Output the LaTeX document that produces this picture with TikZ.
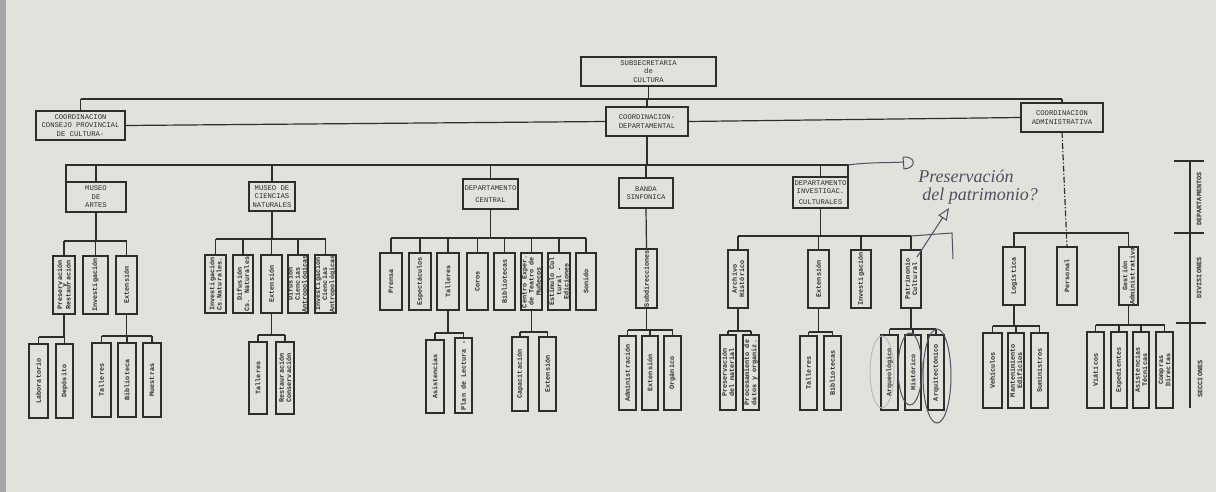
\documentclass[tikz,border=0pt]{standalone}
\usepackage{fontspec}
\newfontfamily\mono{Liberation Mono}
\newfontfamily\handf{Liberation Serif}
\usetikzlibrary{arrows.meta}
\definecolor{paper}{RGB}{226,226,221}
\definecolor{ink}{RGB}{45,45,45}
\definecolor{pencil}{RGB}{80,80,95}
\tikzset{
  bx/.style={draw=ink, line width=0.6pt, inner sep=0pt, outer sep=0pt},
  htxt/.style={font=\mono\fontsize{3.6}{4.2}\selectfont, text=ink, align=center, inner sep=0pt},
  vtxt/.style={font=\mono\bfseries\fontsize{3.4}{3.6}\selectfont, text=ink, align=center, inner sep=0pt, rotate=90},
  ln/.style={draw=ink, line width=0.6pt},
  hand/.style={draw=pencil, line width=0.5pt},
  handtxt/.style={font=\handf\itshape\fontsize{9}{10}\selectfont, text=pencil, inner sep=0pt},
}
\newcommand{\hb}[6]{%
  \node[bx, minimum width={(#3-#2)*0.5pt}, minimum height={(#5-#4)*0.5pt}] (#1) at ({(#2+#3)/2},{(#4+#5)/2}) {};
  \node[htxt] (#1t) at (#1.center) {#6};}
\newcommand{\vb}[6]{%
  \node[bx, minimum width={(#3-#2)*0.5pt}, minimum height={(#5-#4)*0.5pt}] (#1) at ({(#2+#3)/2},{(#4+#5)/2}) {};
  \node[vtxt] (#1t) at (#1.center) {#6};}
\newcommand{\grp}[5]{%
  \coordinate (barY) at (0,#2);
  \draw[ln] (#1.south) -- (#1.south |- barY);
  \draw[ln] (#3.north |- barY) -- (#4.north |- barY);
  \foreach \c in {#5}{\draw[ln] (\c.north) -- (\c.north |- barY);}}
\begin{document}
\begin{tikzpicture}[x=0.5pt,y=-0.5pt]
\useasboundingbox (0,0) rectangle (1216,492);
\fill[paper] (0,0) rectangle (1216,492);
\fill[black!35] (0,0) rectangle (6,492);

% top level
\hb{sub}{581}{716}{57}{86}{SUBSECRETARIA\\de\\CULTURA}
\hb{ccp}{36}{125}{111}{140}{COORDINACION\\CONSEJO PROVINCIAL\\DE CULTURA-}
\hb{cd}{606}{688}{107}{136}{COORDINACION-\\DEPARTAMENTAL}
\hb{ca}{1021}{1103}{103}{132}{COORDINACION\\ADMINISTRATIVA}
\coordinate (top) at (0,99);
\draw[ln] (sub.south) -- (sub.south |- top);
\draw[ln] (ccp.north |- top) -- (ca.north |- top);
\foreach \n in {ccp,cd,ca}{\draw[ln] (\n.north) -- (\n.north |- top);}
\draw[ln] (ccp.east) -- (cd.west);
\draw[ln] (cd.east) -- (ca.west);

% departments
\hb{mda}{66}{126}{182}{212}{MUSEO\\DE\\ARTES}
\hb{mcn}{249}{295}{182}{211}{MUSEO DE\\CIENCIAS\\NATURALES}
\hb{dc}{463}{518}{179}{209}{DEPARTAMENTO\\[2pt]CENTRAL}
\hb{bs}{619}{673}{178}{208}{BANDA\\SINFONICA}
\hb{dic}{793}{848}{177}{208}{DEPARTAMENTO\\INVESTIGAC.\\[1pt]CULTURALES}
\coordinate (bus) at (0,165);
\draw[ln] (cd.south) -- (cd.south |- bus);
\draw[ln] (mda.north west) -- (mda.north west |- bus) -- (dic.north east |- bus) -- (dic.north east);
\foreach \n in {mda,mcn,dc,bs,dic}{\draw[ln] (\n.north) -- (\n.north |- bus);}

% divisions
\vb{dpres}{53}{75}{256}{314}{Preservación\\[-1.5pt]y\\[-1.5pt]Restauración}
\vb{dinva}{83}{108}{256}{314}{Investigación}
\vb{dexta}{116}{137}{256}{314}{Extensión}
\grp{mda}{241}{dpres}{dexta}{dpres,dinva,dexta}

\vb{dicn}{205}{226}{255}{313}{Investigación\\Cs.Naturales.}
\vb{ddcn}{233}{253}{255}{313}{Difusión\\Cs. Naturales}
\vb{dextb}{261}{282}{255}{313}{Extensión}
\vb{ddca}{288}{308}{255}{313}{Difusión\\Ciencias\\Antropológicas}
\vb{dica}{315}{336}{255}{313}{Investigación\\Ciencias\\Antropológicas}
\grp{mcn}{239}{dicn}{dica}{dicn,ddcn,dextb,ddca,dica}

\vb{dpre}{380}{402}{253}{310}{Prensa}
\vb{desp}{409}{431}{253}{310}{Espectáculos}
\vb{dtal}{437}{459}{253}{310}{Talleres}
\vb{dcor}{467}{488}{253}{310}{Coros}
\vb{dbib}{494}{515}{253}{310}{Bibliotecas}
\vb{dcen}{521}{542}{253}{310}{Centro Exper.\\de Teatro de\\Muñecos}
\vb{dest}{548}{570}{253}{310}{Estímulo Cul\\tural -\\Ediciones}
\vb{dson}{576}{596}{253}{310}{Sonido}
\grp{dc}{238}{dpre}{dson}{dpre,desp,dtal,dcor,dbib,dcen,dest,dson}

\vb{dsub}{636}{657}{249}{308}{Subdirecciones}
\draw[ln] (bs.south) -- (dsub.north);

\vb{darc}{728}{748}{250}{308}{Archivo\\Histórico}
\vb{dextc}{808}{829}{250}{308}{Extensión}
\vb{dinvc}{851}{871}{250}{308}{Investigación}
\vb{dpat}{901}{921}{250}{308}{Patrimonio\\Cultural}
\grp{dic}{236}{darc}{dpat}{darc,dextc,dinvc,dpat}

\vb{dlog}{1003}{1025}{247}{305}{Logística}
\vb{dper}{1057}{1077}{247}{305}{Personal}
\vb{dges}{1119}{1138}{247}{305}{Gestión\\Administrativa}
\coordinate (cabar) at (0,233);
\draw[ln] (dlog.north) -- (dlog.north |- cabar) -- (dges.north |- cabar) -- (dges.north);
\draw[ln, dash pattern=on 3pt off 1pt on 0.6pt off 1pt] (ca.south) -- (dper.north);

% sections
\vb{slab}{29}{48}{344}{418}{Laboratorio}
\vb{sdep}{56}{73}{344}{418}{Depósito}
\grp{dpres}{337}{slab}{sdep}{slab,sdep}
\vb{stala}{92}{111}{343}{417}{Talleres}
\vb{sbiba}{118}{136}{343}{417}{Biblioteca}
\vb{smue}{143}{161}{343}{417}{Muestras}
\grp{dexta}{336}{stala}{smue}{stala,sbiba,smue}
\vb{stalb}{249}{267}{342}{414}{Talleres}
\vb{sres}{276}{294}{342}{414}{Restauración\\Conservación}
\grp{dextb}{335}{stalb}{sres}{stalb,sres}
\vb{sasi}{426}{444}{340}{413}{Asistencias}
\vb{spla}{455}{472}{338}{413}{Plan de Lectura -}
\grp{dtal}{333}{sasi}{spla}{sasi,spla}
\vb{scap}{512}{528}{337}{411}{Capacitación}
\vb{sextd}{539}{556}{337}{411}{Extensión}
\grp{dcen}{332}{scap}{sextd}{scap,sextd}
\vb{sadm}{619}{636}{336}{410}{Administración}
\vb{sexte}{642}{658}{336}{410}{Extensión}
\vb{sorg}{664}{681}{336}{410}{Orgánico}
\grp{dsub}{330}{sadm}{sorg}{sadm,sexte,sorg}
\vb{spdm}{720}{736}{335}{410}{Preservación\\del material}
\vb{spro}{743}{759}{335}{410}{Procesamiento de\\datos y organiz.}
\grp{darc}{331}{spdm}{spro}{spdm,spro}
\vb{stalc}{800}{817}{336}{410}{Talleres}
\vb{sbibc}{824}{841}{336}{410}{Bibliotecas}
\grp{dextc}{332}{stalc}{sbibc}{stalc,sbibc}
\vb{sarqo}{881}{898}{335}{410}{Arqueológico}
\vb{shis}{905}{921}{335}{410}{Histórico}
\vb{sarqt}{928}{944}{335}{410}{Arquitectónico}
\grp{dpat}{329}{sarqo}{sarqt}{sarqo,shis,sarqt}
\vb{sveh}{983}{1002}{333}{408}{Vehículos}
\vb{sman}{1008}{1024}{333}{408}{Mantenimiento\\Edificios}
\vb{ssum}{1031}{1048}{333}{408}{Suministros}
\grp{dlog}{326}{sveh}{ssum}{sveh,sman,ssum}
\vb{svia}{1087}{1104}{332}{408}{Viáticos}
\vb{sexp}{1111}{1127}{332}{408}{Expedientes}
\vb{sasib}{1133}{1149}{332}{408}{Asistencias\\Técnicas}
\vb{scom}{1156}{1173}{332}{408}{Compras\\Directas}
\grp{dges}{325}{svia}{scom}{svia,sexp,sasib,scom}

% level axis
\draw[ln] (1190,161) -- (1190,408);
\draw[ln] (1174,161) -- (1204,161);
\draw[ln] (1174,233) -- (1204,233);
\draw[ln] (1176,323) -- (1206,323);
\node[vtxt] (lvd) at (1199,199) {DEPARTAMENTOS};
\node[vtxt] (lvv) at (1199,278) {DIVISIONES};
\node[vtxt] (lvs) at (1200,379) {SECCIONES};

% handwritten annotations
\draw[hand] (dic.north east |- bus) .. controls (870,162) and (890,163) .. (904,162);
\draw[hand] (903,157) .. controls (916,156) and (917,168) .. (904,169) -- (903,157);
\node[handtxt, anchor=west] (h1) at (918,176) {Preservación};
\node[handtxt, anchor=west] (h2) at (922,196) {del patrimonio?};
\draw[hand, -{Triangle[open, length=6pt, width=5pt]}] (917,257) -- (949,208);
\draw[hand] (dpat.north |- 0,236) -- (952,233) -- (953,259);
\draw[hand] (910,369) ellipse [x radius=6pt, y radius=18pt];
\draw[hand] (937,376) ellipse [x radius=7pt, y radius=23.5pt];
\draw[hand, draw=pencil!40] (882,372) ellipse [x radius=6pt, y radius=18pt];
\end{tikzpicture}
\end{document}
